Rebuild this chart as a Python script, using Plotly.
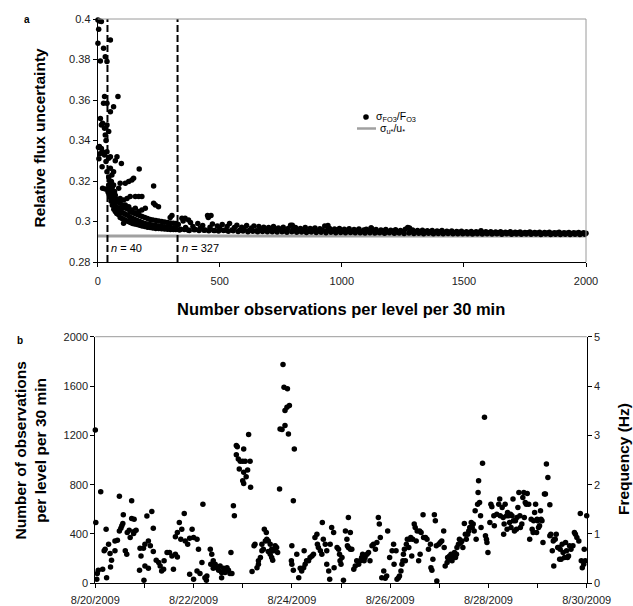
import plotly.graph_objects as go
import pandas as pd

# ---------------- Panel a data ----------------
n_scatter = [1, 7, 15, 4, 1, 11, 24, 31, 38, 52,
             28, 24, 38, 52, 65, 83,
             11, 15, 20, 28, 38, 45, 31, 34,
             7, 15, 20, 28, 38, 45, 52,
             18, 34, 38, 52, 58, 65, 72, 79, 97,
             56, 65, 20, 31, 42, 48, 58, 69, 86, 92, 113, 127, 140, 147, 170, 229,
             56, 65, 79, 92, 106, 120, 133, 154, 168, 181,
             72, 86, 99, 113, 127, 140, 154, 168, 181, 195, 229, 236, 249, 106,
             297, 304, 345, 358, 372, 453, 464, 797, 943, 1120, 1277,
             3, 5, 9]
unc_scatter = [0.3995, 0.399, 0.3988, 0.395, 0.388, 0.3793, 0.3855, 0.3814, 0.379, 0.3896,
               0.3617, 0.3584, 0.3584, 0.3542, 0.3567, 0.3617,
               0.3509, 0.3477, 0.3485, 0.346, 0.3477, 0.3444, 0.3427, 0.340,
               0.337, 0.336, 0.3345, 0.3328, 0.3345, 0.3312, 0.332,
               0.327, 0.3296, 0.3246, 0.3263, 0.323, 0.3246, 0.330, 0.332, 0.3287,
               0.3197, 0.318, 0.3164, 0.316, 0.3147, 0.3131, 0.3131, 0.3147, 0.3164, 0.3189, 0.3189, 0.3197, 0.3205, 0.3213, 0.3259, 0.3175,
               0.3106, 0.3098, 0.3098, 0.3114, 0.3106, 0.3114, 0.3123, 0.3123, 0.3123, 0.3123,
               0.3073, 0.3065, 0.3065, 0.3082, 0.3073, 0.3057, 0.3065, 0.3049, 0.3057, 0.3065, 0.309, 0.3082, 0.3073, 0.2991,
               0.302, 0.303, 0.3016, 0.3016, 0.3008, 0.302, 0.303, 0.2982, 0.298, 0.2968, 0.2968,
               0.3365, 0.331, 0.3335]

dense_n = [45, 50, 55, 60, 66, 72, 78, 85, 92, 100, 108, 116, 125, 134, 143, 152,
           162, 172, 182, 193, 204, 215, 226, 238, 250, 262, 274, 286, 298, 310, 320]
dense_hi = [0.322, 0.320, 0.319, 0.317, 0.315, 0.313, 0.311, 0.310, 0.309, 0.308, 0.307, 0.3065,
            0.306, 0.305, 0.3045, 0.304, 0.3035, 0.303, 0.3025, 0.302, 0.3015, 0.301, 0.3008,
            0.3005, 0.3002, 0.300, 0.2998, 0.2995, 0.2993, 0.2991, 0.2990]
dense_mid = [0.318, 0.316, 0.314, 0.312, 0.310, 0.309, 0.307, 0.306, 0.305, 0.3045, 0.304, 0.3035,
             0.303, 0.302, 0.3015, 0.301, 0.3005, 0.300, 0.2995, 0.299, 0.2988, 0.2985, 0.2982,
             0.298, 0.2978, 0.2976, 0.2974, 0.2972, 0.2970, 0.2968, 0.2967]
dense_lo = [0.314, 0.312, 0.310, 0.308, 0.306, 0.305, 0.304, 0.3035, 0.302, 0.3015, 0.301, 0.3005,
            0.300, 0.2995, 0.299, 0.2988, 0.2985, 0.2982, 0.2978, 0.2975, 0.2972, 0.297, 0.2968,
            0.2966, 0.2965, 0.2964, 0.2963, 0.2962, 0.2961, 0.296, 0.296]

n_tail = list(range(330, 2001, 10))
unc_tail = [0.2985, 0.2962, 0.3002, 0.2970, 0.2958, 0.2995, 0.2975, 0.2960, 0.2990, 0.2968,
            0.2980, 0.2958, 0.3030, 0.2972, 0.2988, 0.2956, 0.2978, 0.2965, 0.2985, 0.2957,
            0.2975, 0.2990, 0.2958, 0.2970, 0.2982, 0.2955, 0.2972, 0.2962, 0.2980, 0.2956,
            0.2968, 0.2978, 0.2954, 0.2975, 0.2960, 0.2972, 0.2955, 0.2970, 0.2962, 0.2975,
            0.2955, 0.2968, 0.2960, 0.2972, 0.2953, 0.2966, 0.2982, 0.2958, 0.2970, 0.2954,
            0.2966, 0.2958, 0.2970, 0.2952, 0.2965, 0.2960, 0.2968, 0.2953, 0.2964, 0.2958,
            0.2978, 0.2955, 0.2966, 0.2952, 0.2963, 0.2958, 0.2966, 0.2951, 0.2962, 0.2956,
            0.2964, 0.2950, 0.2960, 0.2955, 0.2963, 0.2950, 0.2958, 0.2962, 0.2952, 0.2968,
            0.2955, 0.2960, 0.2948, 0.2958, 0.2953, 0.2961, 0.2949, 0.2957, 0.2952, 0.2959,
            0.2948, 0.2956, 0.2951, 0.2962, 0.2970, 0.2950, 0.2958, 0.2948, 0.2955, 0.2950,
            0.2957, 0.2947, 0.2954, 0.2950, 0.2956, 0.2946, 0.2953, 0.2949, 0.2955, 0.2946,
            0.2952, 0.2947, 0.2953, 0.2945, 0.2951, 0.2947, 0.2952, 0.2944, 0.2950, 0.2946,
            0.2951, 0.2944, 0.2949, 0.2946, 0.2954, 0.2944, 0.2949, 0.2945, 0.2950, 0.2943,
            0.2948, 0.2944, 0.2950, 0.2943, 0.2947, 0.2944, 0.2949, 0.2942, 0.2947, 0.2944,
            0.2948, 0.2942, 0.2946, 0.2944, 0.2948, 0.2942, 0.2946, 0.2943, 0.2947, 0.2941,
            0.2946, 0.2943, 0.2947, 0.2941, 0.2945, 0.2943, 0.2947, 0.2941, 0.2945, 0.2942,
            0.2946, 0.2941, 0.2945, 0.2942, 0.2946, 0.2941, 0.2945, 0.2942]

n_tail_low = list(range(335, 2000, 20))
unc_tail_low = [0.2958, 0.2960, 0.2956, 0.2959, 0.2955, 0.2957, 0.2954, 0.2956, 0.2953, 0.2955,
                0.2952, 0.2954, 0.2951, 0.2953, 0.2950, 0.2952, 0.2950, 0.2951, 0.2949, 0.2950,
                0.2948, 0.2950, 0.2947, 0.2949, 0.2947, 0.2948, 0.2946, 0.2948, 0.2946, 0.2947,
                0.2945, 0.2947, 0.2945, 0.2946, 0.2944, 0.2946, 0.2944, 0.2945, 0.2943, 0.2945,
                0.2943, 0.2944, 0.2942, 0.2944, 0.2942, 0.2943, 0.2941, 0.2943, 0.2941, 0.2942,
                0.2940, 0.2942, 0.2940, 0.2941, 0.2939, 0.2941, 0.2939, 0.2940, 0.2939, 0.2940,
                0.2938, 0.2940, 0.2938, 0.2939, 0.2938, 0.2939, 0.2937, 0.2939, 0.2937, 0.2938,
                0.2937, 0.2938, 0.2937, 0.2938, 0.2936, 0.2938, 0.2936, 0.2937, 0.2936, 0.2937,
                0.2936, 0.2937, 0.2936, 0.2937]

sigma_u_ratio = 0.2928
n_thresholds = [40, 327]

# ---------------- Panel b data ----------------
day_offset = [
    0.00, 0.01, 0.11, 0.03, 0.06, 0.04, 0.15, 0.23, 0.31, 0.18, 0.20, 0.27, 0.22, 0.30, 0.33, 0.40,
    0.40, 0.45, 0.49, 0.57, 0.49, 0.54, 0.52, 0.56, 0.61, 0.64, 0.65, 0.69, 0.74, 0.74, 0.79, 0.79,
    0.83, 0.71, 0.78, 0.91, 0.98, 1.05, 1.15, 1.18, 1.01, 1.08, 1.12, 0.93, 0.90, 1.01, 1.08, 0.99,
    1.18, 1.24, 1.29, 1.32, 1.35, 1.39, 1.40, 1.46, 1.51, 1.56, 1.59, 1.63, 1.67, 1.71, 1.76, 1.63,
    1.67, 1.74, 1.81, 1.83, 1.88, 1.92, 1.97, 2.00, 1.92, 2.00,
    2.07, 2.10, 2.07, 2.13, 2.17, 2.19, 2.23, 2.27, 2.26, 2.34, 2.37, 2.40, 2.35, 2.44, 2.47, 2.40,
    2.51, 2.54, 2.57, 2.61, 2.57, 2.64, 2.68, 2.71, 2.74, 2.78, 2.76, 2.81, 2.83, 2.87, 2.89, 2.87,
    2.91, 2.95, 3.00, 3.02, 3.05, 3.12, 3.15, 2.93, 3.02, 3.10, 3.07, 3.00, 3.02, 3.16, 3.19, 3.23,
    3.25, 3.29, 3.32, 3.32, 3.36, 3.39, 3.39, 3.42, 3.44, 3.48, 3.49, 3.46, 3.52, 3.56, 3.59, 3.52,
    3.63, 3.56, 3.59, 3.66, 3.69, 3.71, 3.61, 3.75, 3.76, 3.82, 3.84, 3.91, 3.90, 3.86, 3.95, 3.80,
    3.86, 3.93, 4.05, 4.03, 4.00, 4.00, 4.03, 3.99,
    4.10, 4.14, 4.17, 4.20, 4.24, 4.25, 4.27, 4.30, 4.34, 4.37, 4.41, 4.44, 4.47, 4.51, 4.52, 4.54,
    4.58, 4.62, 4.64, 4.61, 4.68, 4.71, 4.71, 4.75, 4.77, 4.78, 4.81, 4.85, 4.86, 4.92, 4.95, 4.97,
    4.98, 5.00, 5.02, 5.05, 5.09, 5.12, 5.13, 5.15, 5.19, 5.15, 5.19, 5.22, 5.26, 5.29, 5.32, 5.36,
    5.39, 5.42, 5.44, 5.47, 5.49, 5.53, 5.56, 5.59, 5.63, 5.66, 5.70, 5.73, 5.76, 5.78, 5.80, 5.83,
    5.87, 5.90, 5.93, 5.95, 5.99, 6.04, 6.07, 6.08,
    6.12, 6.14, 6.17, 6.19, 6.22, 6.24, 6.26, 6.27, 6.29, 6.31, 6.33, 6.35, 6.38, 6.40, 6.42, 6.44,
    6.46, 6.49, 6.51, 6.53, 6.55, 6.58, 6.60, 6.61, 6.63, 6.67, 6.68, 6.72, 6.75, 6.78, 6.82, 6.83,
    6.85, 6.87, 6.90, 6.92, 6.94, 6.95, 6.99, 7.02, 7.05, 7.09, 7.10, 7.12, 7.16, 7.17, 7.19, 7.21,
    7.24, 7.26, 7.28, 7.31, 7.33, 7.35, 7.36, 7.39, 7.41, 7.44, 7.46, 7.48, 7.51, 7.53, 7.55, 7.58,
    7.60, 7.62, 7.65, 7.67, 7.69, 7.71, 7.73, 7.75, 7.78, 7.79, 7.80, 7.82, 7.84, 7.85, 7.88, 7.92,
    7.94, 7.96, 7.97, 7.99, 8.03, 8.05, 8.07, 8.11, 8.12,
    8.17, 8.21, 8.23, 8.24, 8.28, 8.30, 8.31, 8.32, 8.34, 8.37, 8.38, 8.39, 8.41, 8.43, 8.45, 8.46,
    8.48, 8.50, 8.51, 8.53, 8.55, 8.57, 8.58, 8.60, 8.62, 8.64, 8.65, 8.68, 8.70, 8.72, 8.73, 8.75,
    8.77, 8.79, 8.82, 8.84, 8.87, 8.89, 8.91, 8.92, 8.94, 8.96, 8.98, 8.99, 9.00, 9.02, 9.04, 9.06,
    9.07, 9.09, 9.11, 9.14, 9.16, 9.18, 9.21, 9.25, 9.25, 9.27, 9.30, 9.32, 9.33, 9.34, 9.36, 9.38,
    9.41, 9.43, 9.45, 9.46, 9.48, 9.50, 9.52, 9.55, 9.57, 9.59, 9.61, 9.63, 9.65, 9.68, 9.72, 9.75,
    9.77, 9.80, 9.84, 9.87, 9.89, 9.91, 9.94, 9.95, 9.97, 10.00]
obs_count = [
    1244, 493, 743, 33, 106, 79, 114, 46, 133, 263, 276, 317, 439, 241, 187, 263,
    344, 350, 705, 556, 425, 466, 447, 485, 263, 236, 412, 431, 669, 526, 520, 420,
    431, 371, 404, 285, 285, 545, 583, 447, 317, 344, 304, 222, 106, 141, 122, 24,
    257, 187, 168, 141, 100, 114, 182, 249, 249, 222, 114, 236, 214, 493, 439, 377,
    412, 358, 566, 344, 317, 366, 439, 371, 73, 33,
    358, 276, 100, 79, 168, 642, 46, 60, 24, 276, 236, 182, 154, 154, 127, 122,
    106, 141, 87, 122, 46, 87, 127, 106, 79, 79, 249, 629, 547, 1117, 1108, 1043,
    1008, 989, 989, 1089, 989, 1206, 989, 927, 900, 919, 865, 832, 810, 778, 95, 304,
    317, 127, 154, 182, 209, 317, 263, 276, 439, 412, 358, 344, 344, 317, 276, 257,
    263, 236, 209, 304, 290, 249, 187, 764, 1252, 1775, 1591, 1577, 1428, 1401, 1442, 1247,
    1279, 1211, 1089, 669, 304, 154, 106, 182,
    236, 46, 122, 100, 127, 263, 154, 182, 182, 209, 222, 236, 371, 398, 317, 290,
    263, 493, 358, 236, 317, 263, 154, 100, 33, 317, 453, 412, 127, 290, 276, 236,
    182, 154, 209, 24, 425, 358, 304, 534, 412, 290, 276, 276, 114, 141, 182, 154,
    182, 209, 236, 182, 209, 236, 249, 182, 304, 317, 276, 331, 534, 480, 371, 46,
    100, 41, 60, 425, 209, 263, 317, 154,
    263, 33, 46, 60, 100, 154, 182, 236, 276, 182, 317, 358, 290, 358, 371, 222,
    358, 480, 453, 344, 425, 182, 425, 236, 412, 556, 371, 371, 358, 276, 317, 127,
    106, 195, 556, 507, 304, 19, 317, 331, 344, 425, 290, 141, 168, 209, 195, 222,
    236, 182, 209, 249, 209, 236, 290, 317, 358, 331, 344, 290, 485, 398, 358, 398,
    425, 453, 493, 453, 480, 425, 588, 358, 642, 737, 832, 656, 547, 453, 973, 1347,
    385, 358, 331, 249, 493, 642, 621, 547, 466,
    561, 642, 683, 547, 615, 534, 398, 480, 642, 547, 439, 575, 547, 493, 561, 453,
    547, 683, 507, 425, 507, 439, 534, 615, 737, 547, 453, 480, 696, 737, 534, 656,
    642, 729, 642, 358, 520, 439, 412, 507, 575, 642, 412, 520, 507, 453, 466, 588,
    520, 507, 331, 724, 724, 967, 859, 637, 385, 398, 263, 344, 141, 358, 358, 398,
    290, 290, 195, 276, 195, 317, 249, 209, 331, 263, 209, 222, 304, 276, 304, 412,
    398, 371, 344, 566, 182, 127, 154, 276, 182, 547]

start_date = pd.Timestamp("2009-08-20")
times = [start_date + pd.to_timedelta(d, unit="D") for d in day_offset]

FONT = "Liberation Sans, Arial, sans-serif"
W, H = 633, 606

fig = go.Figure()

fig.add_trace(go.Scatter(
    x=[0, 2000], y=[sigma_u_ratio, sigma_u_ratio], mode="lines",
    line=dict(color="#a0a0a0", width=3), name="σu*/u*",
    xaxis="x", yaxis="y", hoverinfo="skip", showlegend=False))

fig.add_trace(go.Scatter(
    x=n_scatter + dense_n + dense_n + dense_n + n_tail + n_tail_low,
    y=unc_scatter + dense_hi + dense_mid + dense_lo + unc_tail + unc_tail_low,
    mode="markers", marker=dict(color="black", size=5.5),
    name="σFO3/FO3", xaxis="x", yaxis="y", showlegend=False, cliponaxis=False))

fig.add_trace(go.Scatter(
    x=times, y=obs_count, mode="markers", marker=dict(color="black", size=5.5),
    xaxis="x2", yaxis="y2", showlegend=False, cliponaxis=False))

# invisible trace to activate the right-hand frequency axis
fig.add_trace(go.Scatter(
    x=[times[0]], y=[0], mode="markers", marker=dict(opacity=0),
    xaxis="x2", yaxis="y3", showlegend=False, hoverinfo="skip"))

def px_x(p):
    return p / W

def px_y(p):
    return 1 - p / H

shapes = []
for n in n_thresholds:
    shapes.append(dict(type="line", xref="x", yref="y", x0=n, x1=n, y0=0.28, y1=0.4,
                       line=dict(color="black", width=2, dash="7px,3px")))
# grey top / right frame of panel a, grey top of panel b
shapes.append(dict(type="line", xref="x domain", yref="y domain", x0=0, x1=1, y0=1, y1=1,
                   line=dict(color="#9a9a9a", width=1)))
shapes.append(dict(type="line", xref="x domain", yref="y domain", x0=1, x1=1, y0=0, y1=1,
                   line=dict(color="#9a9a9a", width=1)))
shapes.append(dict(type="line", xref="x2 domain", yref="y2 domain", x0=0, x1=1, y0=1, y1=1,
                   line=dict(color="#9a9a9a", width=1)))
# legend symbols
shapes.append(dict(type="circle", xref="paper", yref="paper",
                   x0=px_x(363.2), x1=px_x(368.8), y0=px_y(119.8), y1=px_y(114.2),
                   fillcolor="black", line=dict(color="black", width=0)))
shapes.append(dict(type="line", xref="paper", yref="paper",
                   x0=px_x(357), x1=px_x(376), y0=px_y(128.5), y1=px_y(128.5),
                   line=dict(color="#a0a0a0", width=2.5)))

ann = []
def paper_text(txt, px, py, size, bold=False, angle=0, xanchor="center"):
    ann.append(dict(text=f"<b>{txt}</b>" if bold else txt, x=px / W, y=1 - py / H,
                    xref="paper", yref="paper", showarrow=False, textangle=angle,
                    xanchor=xanchor, yanchor="middle",
                    font=dict(family=FONT, size=size, color="black")))

paper_text("a", 27, 20, 10, bold=True)
paper_text("b", 20, 340, 10, bold=True)
paper_text("Number observations per level per 30 min", 341, 309, 16.5, bold=True)
paper_text("Relative flux uncertainty", 38.5, 138, 15.5, bold=True, angle=-90)
paper_text("Number of observations<br>per level per 30 min", 29.5, 451, 15.5, bold=True, angle=-90)
paper_text("Frequency (Hz)", 623, 459, 15.5, bold=True, angle=-90)
paper_text("σ<sub>FO3</sub>/F<sub>O3</sub>", 374, 116.5, 10.5, xanchor="left")
paper_text("σ<sub>u*</sub>/u<sub>*</sub>", 378, 129, 10.5, xanchor="left")

for n in n_thresholds:
    ann.append(dict(text=f"<i>n</i> = {n}", x=n, y=0.2867, xref="x", yref="y",
                    showarrow=False, xanchor="left", yanchor="middle", xshift=2,
                    font=dict(family=FONT, size=11, color="black")))

tickfont = dict(family=FONT, size=11, color="#222")
axis_common = dict(showgrid=False, zeroline=False, ticks="outside", ticklen=4,
                   tickcolor="black", linecolor="black", showline=True,
                   tickfont=tickfont, automargin=False)

fig.update_layout(
    width=W, height=H, margin=dict(l=0, r=0, t=0, b=0),
    paper_bgcolor="white", plot_bgcolor="white",
    font=dict(family=FONT, size=11, color="black"),
    shapes=shapes, annotations=ann, showlegend=False,
    xaxis=dict(domain=[97.7 / W, 586 / W], range=[0, 2000], tickvals=[0, 500, 1000, 1500, 2000],
               anchor="y", ticklabelstandoff=5, **axis_common),
    yaxis=dict(domain=[1 - 262 / H, 1 - 19 / H], range=[0.28, 0.4],
               tickvals=[0.28, 0.30, 0.32, 0.34, 0.36, 0.38, 0.40],
               ticktext=["0.28", "0.3", "0.32", "0.34", "0.36", "0.38", "0.4"],
               anchor="x", **axis_common),
    xaxis2=dict(domain=[95.3 / W, 586.7 / W], type="date",
                range=["2009-08-20", "2009-08-30"], tick0="2009-08-20",
                dtick=2 * 86400000, tickformat="%-m/%-d/%Y",
                minor=dict(dtick=86400000, ticks="outside", ticklen=4, tickcolor="black",
                           showgrid=False),
                anchor="y2", ticklabelstandoff=2, **axis_common),
    yaxis2=dict(domain=[1 - 583.3 / H, 1 - 336.7 / H], range=[0, 2000],
                tickvals=[0, 400, 800, 1200, 1600, 2000], anchor="x2", **axis_common),
    yaxis3=dict(domain=[1 - 583.3 / H, 1 - 336.7 / H], range=[0, 5], overlaying="y2",
                side="right", anchor="x2", tickvals=[0, 1, 2, 3, 4, 5], **axis_common),
)

fig.write_html("out.html", config={"displayModeBar": False},
               post_script="document.body.style.margin='0';")
